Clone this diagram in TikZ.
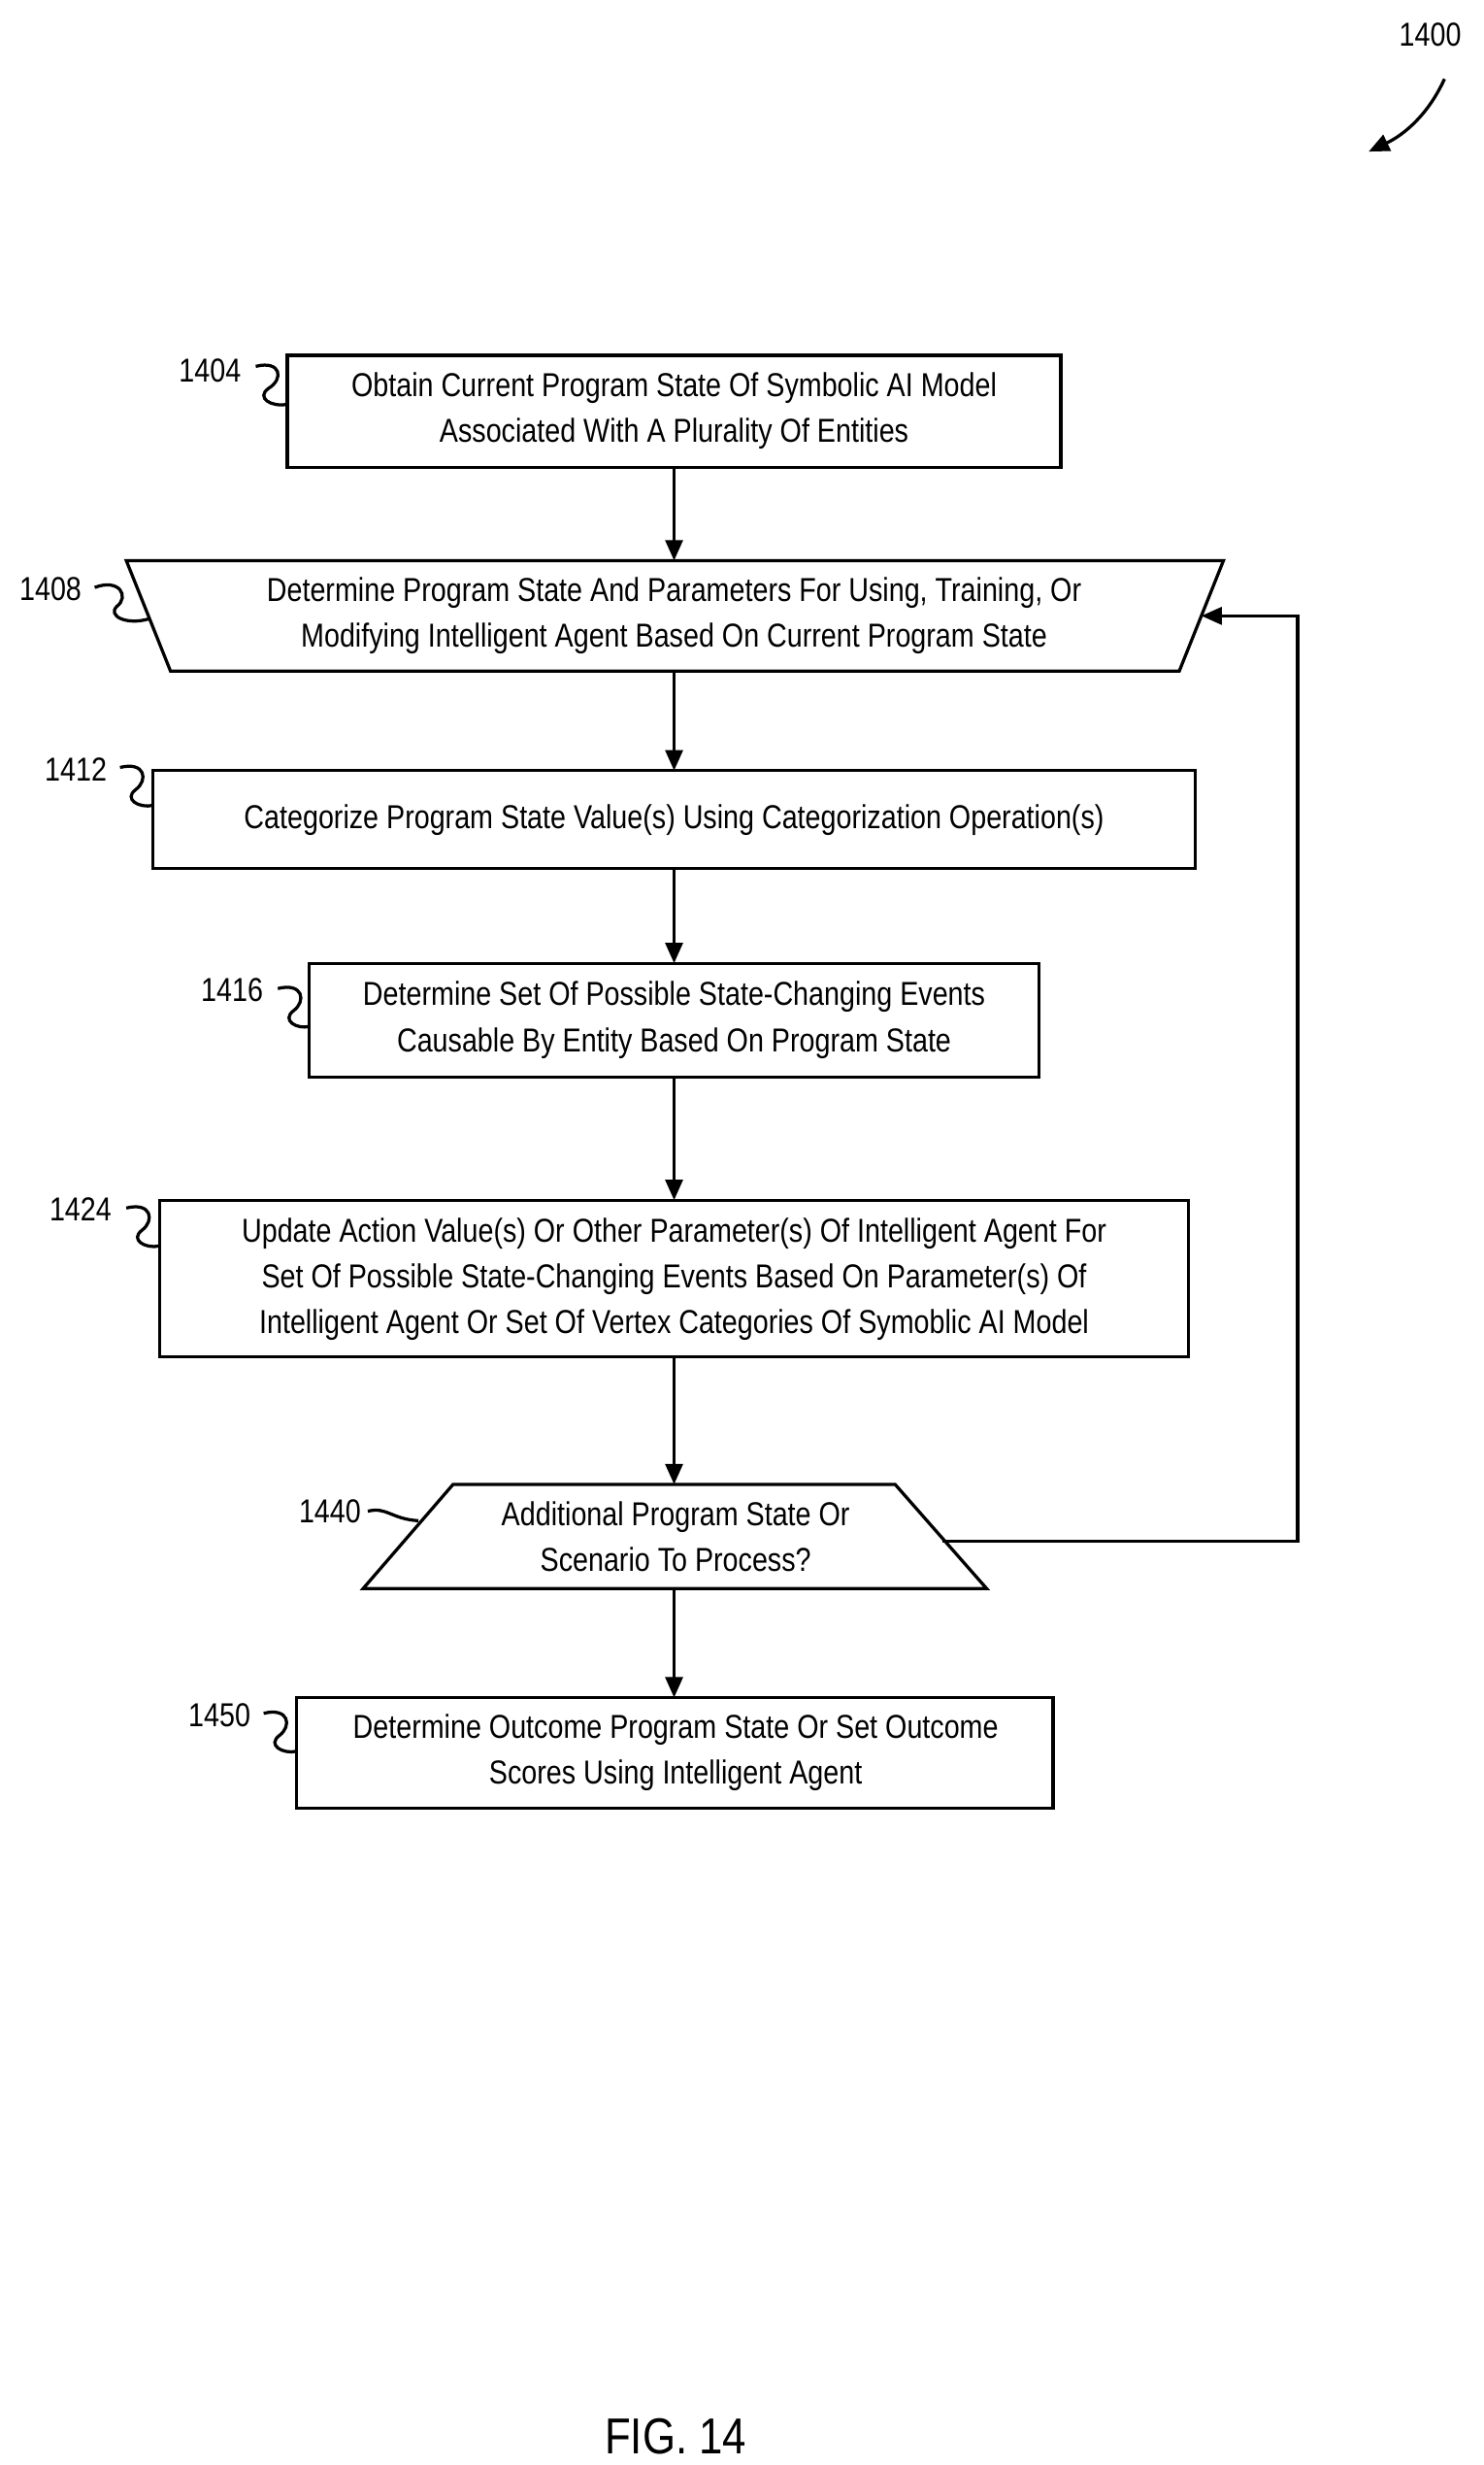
\documentclass[tikz,border=0pt]{standalone}
\usepackage{fontspec}
\setmainfont{Liberation Sans}[FakeStretch=0.84]
\usetikzlibrary{arrows.meta}
\begin{document}
\begin{tikzpicture}[x=1pt,y=-1pt,
  box/.style={draw,line width=2pt},
  txt/.style={font=\fontsize{21}{29}\selectfont,align=center,inner sep=0pt},
  lbl/.style={font=\fontsize{21}{25}\selectfont,inner sep=0pt},
  arr/.style={line width=2pt,-{Triangle[length=13pt,width=11pt]}},
  sq/.style={line width=2pt}]
\useasboundingbox (0,0) rectangle (940,1561);
% 1400
\node[lbl] (l1400) at (906,22) {1400};
\coordinate (c1400) at (867,96);
\draw[arr] (915,50) .. controls (905,72) and (890,85) .. (c1400);
% 1404
\draw[box] (182,225) rectangle (672,296);
\node[txt] (n1404) at (427,260) {Obtain Current Program State Of Symbolic AI Model\\Associated With A Plurality Of Entities};
\coordinate (t1404) at (427,296);
\node[lbl] (l1404) at (133,235) {1404};
\draw[sq] (162,232) .. controls (178,228) and (180,240) .. (170,246) .. controls (162,252) and (172,258) .. (182,256);
% 1408
\draw[box] (80,355) -- (775,355) -- (747,425) -- (108,425) -- cycle;
\node[txt] (n1408) at (427,390) {Determine Program State And Parameters For Using, Training, Or\\Modifying Intelligent Agent Based On Current Program State};
\coordinate (top1408) at (427,355);
\coordinate (b1408) at (427,425);
\coordinate (r1408) at (761,390);
\node[lbl] (l1408) at (32,373) {1408};
\draw[sq] (60,372) .. controls (76,366) and (82,378) .. (74,384) .. controls (68,390) and (80,396) .. (94,392);
% 1412
\draw[box] (97,488) rectangle (757,550);
\node[txt] (n1412) at (427,519) {Categorize Program State Value(s) Using Categorization Operation(s)};
\coordinate (top1412) at (427,488);
\coordinate (b1412) at (427,550);
\node[lbl] (l1412) at (48,487) {1412};
\draw[sq] (76,486) .. controls (92,482) and (94,494) .. (86,500) .. controls (78,506) and (88,512) .. (97,510);
% 1416
\draw[box] (196,610) rectangle (658,682);
\node[txt] (n1416) at (427,646) {Determine Set Of Possible State-Changing Events\\Causable By Entity Based On Program State};
\coordinate (top1416) at (427,610);
\coordinate (b1416) at (427,682);
\node[lbl] (l1416) at (147,627) {1416};
\draw[sq] (176,626) .. controls (192,622) and (194,634) .. (186,640) .. controls (178,646) and (188,652) .. (196,650);
% 1424
\draw[box] (101,760) rectangle (753,859);
\node[txt] (n1424) at (427,810) {Update Action Value(s) Or Other Parameter(s) Of Intelligent Agent For\\Set Of Possible State-Changing Events Based On Parameter(s) Of\\Intelligent Agent Or Set Of Vertex Categories Of Symoblic AI Model};
\coordinate (top1424) at (427,760);
\coordinate (b1424) at (427,859);
\node[lbl] (l1424) at (51,766) {1424};
\draw[sq] (80,765) .. controls (96,761) and (98,773) .. (90,779) .. controls (82,785) and (92,791) .. (101,789);
% 1440
\draw[box] (287,940) -- (567,940) -- (625,1006) -- (230,1006) -- cycle;
\node[txt] (n1440) at (428,973) {Additional Program State Or\\Scenario To Process?};
\coordinate (top1440) at (427,940);
\coordinate (b1440) at (427,1006);
\coordinate (r1440) at (597,976);
\node[lbl] (l1440) at (209,957) {1440};
\draw[sq] (233,957) .. controls (245,954) and (248,962) .. (265,963);
% 1450
\draw[box] (188,1075) rectangle (667,1145);
\node[txt] (n1450) at (428,1110) {Determine Outcome Program State Or Set Outcome\\Scores Using Intelligent Agent};
\coordinate (top1450) at (427,1075);
\node[lbl] (l1450) at (139,1086) {1450};
\draw[sq] (167,1085) .. controls (183,1081) and (185,1093) .. (177,1099) .. controls (169,1105) and (179,1111) .. (188,1109);
% arrows
\draw[arr] (t1404) -- (top1408);
\draw[arr] (b1408) -- (top1412);
\draw[arr] (b1412) -- (top1416);
\draw[arr] (b1416) -- (top1424);
\draw[arr] (b1424) -- (top1440);
\draw[arr] (b1440) -- (top1450);
\draw[arr] (r1440) -- (822,976) -- (822,390) -- (r1408);
% fig
\node[font=\fontsize{32}{36}\selectfont,inner sep=0pt] (fig) at (428,1543) {FIG. 14};
\end{tikzpicture}
\end{document}
